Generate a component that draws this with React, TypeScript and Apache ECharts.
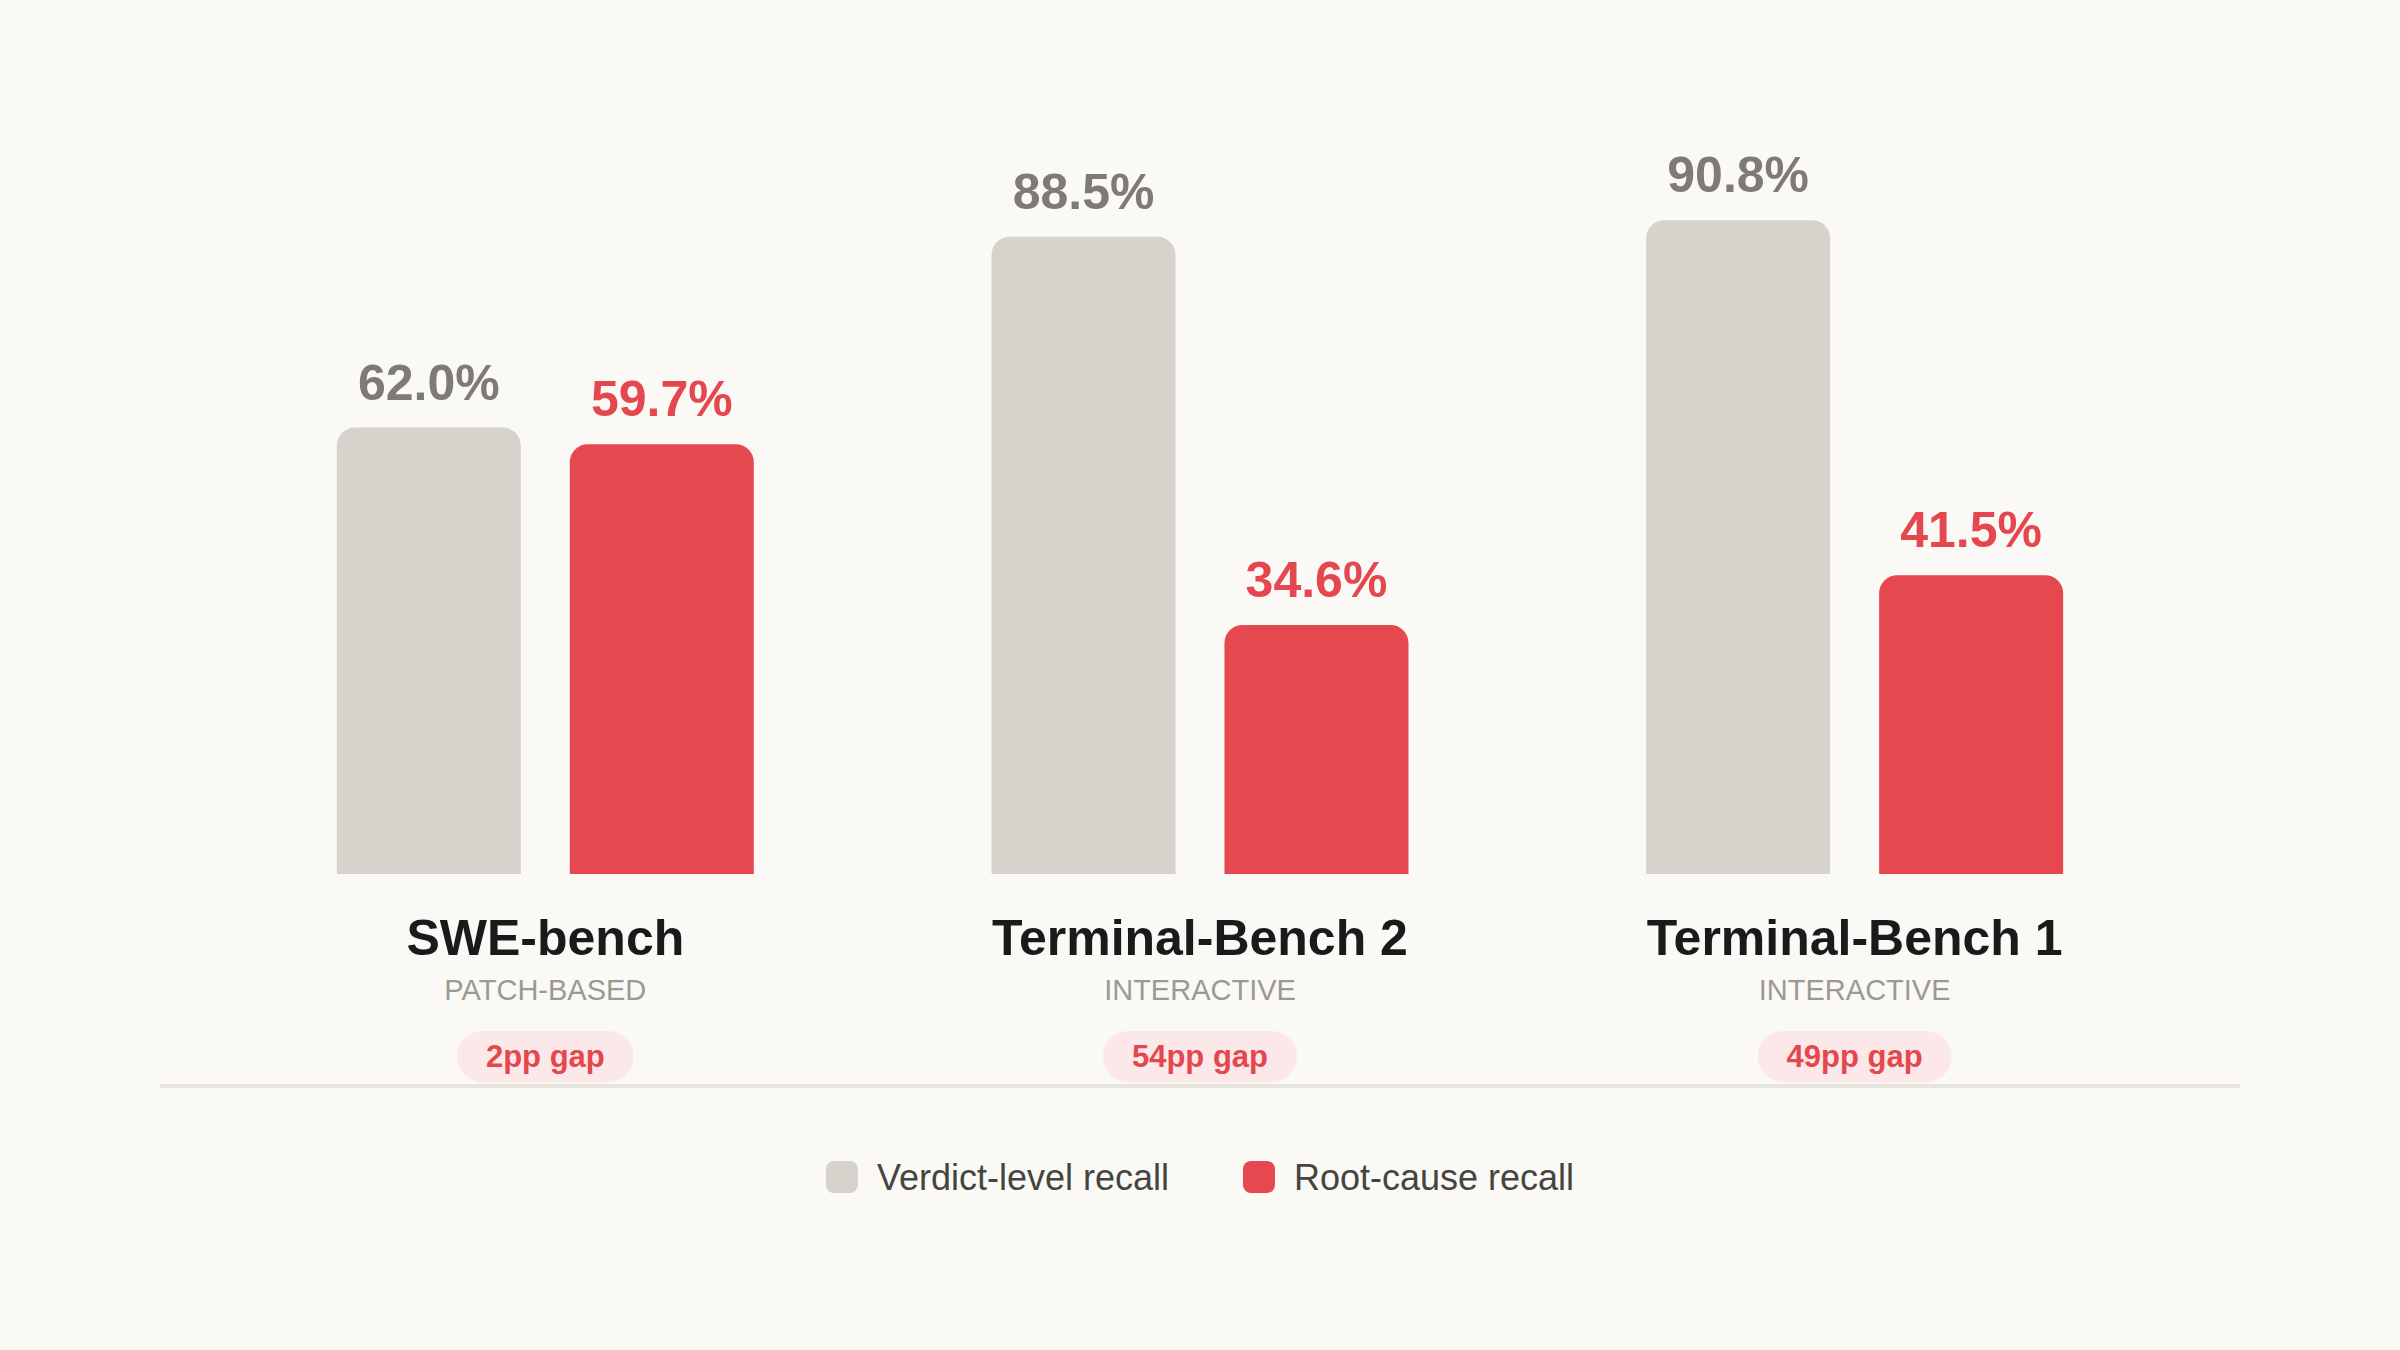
import React, { useEffect, useRef } from "react";
import * as echarts from "echarts";

const benchmarks = ["SWE-bench", "Terminal-Bench 2", "Terminal-Bench 1"];
const benchmarkTypes = ["PATCH-BASED", "INTERACTIVE", "INTERACTIVE"];
const gapLabels = ["2pp gap", "54pp gap", "49pp gap"];
const verdictRecall = [62.0, 88.5, 90.8];
const rootCauseRecall = [59.7, 34.6, 41.5];
const seriesNames = ["Verdict-level recall", "Root-cause recall"];

const FONT = "'Liberation Sans', Arial, Helvetica, sans-serif";
const GRAY_BAR = "#d5d3cc";
const RED_BAR = "#e5494f";
const GRAY_TEXT = "#7d7b73";
const RED_TEXT = "#e5474e";
const BG = "#faf9f6";

export default function App() {
  const ref = useRef<HTMLDivElement>(null);

  useEffect(() => {
    if (!ref.current) return;
    const chart = echarts.init(ref.current, undefined, { renderer: "svg" });
    chart.setOption({
      animation: false,
      backgroundColor: BG,
      textStyle: { fontFamily: FONT },
      grid: { left: 218, right: 218, top: 154, bottom: 476, containLabel: false },
      legend: {
        data: seriesNames,
        top: 1154,
        left: "center",
        itemWidth: 32,
        itemHeight: 32,
        itemGap: 74,
        icon: "roundRect",
        selectedMode: false,
        textStyle: {
          fontFamily: FONT,
          fontSize: 36,
          color: "#454540",
          padding: [0, 0, 0, 14],
        },
      },
      xAxis: {
        type: "category",
        data: benchmarks,
        axisLine: { show: false },
        axisTick: { show: false },
        splitLine: { show: false },
        axisLabel: {
          interval: 0,
          margin: 34,
          hideOverlap: false,
          formatter: (value: string, idx: number) =>
            `{t|${value}}\n{s|${benchmarkTypes[idx]}}\n{sp| }\n{p|${gapLabels[idx]}}`,
          rich: {
            t: {
              fontFamily: FONT,
              fontSize: 50,
              fontWeight: "bold",
              color: "#1a1a1a",
              lineHeight: 60,
              align: "center",
            },
            s: {
              fontFamily: FONT,
              fontSize: 29,
              color: "#9b9a92",
              lineHeight: 44,
              align: "center",
            },
            sp: {
              fontSize: 10,
              lineHeight: 29,
              align: "center",
            },
            p: {
              fontFamily: FONT,
              fontSize: 31,
              fontWeight: "bold",
              color: RED_TEXT,
              lineHeight: 31,
              align: "center",
              backgroundColor: "#fce8e8",
              borderRadius: 26,
              padding: [10, 29],
            },
          },
        },
      },
      yAxis: {
        type: "value",
        min: 0,
        max: 100,
        show: false,
        splitLine: { show: false },
      },
      graphic: [
        {
          type: "rect",
          left: 160,
          top: 1084,
          shape: { width: 2080, height: 4 },
          style: { fill: "#e6e4dd" },
          z: -1,
        },
      ],
      series: [
        {
          name: seriesNames[0],
          type: "bar",
          data: verdictRecall,
          barWidth: 184,
          barGap: "26.6%",
          itemStyle: { color: GRAY_BAR, borderRadius: [18, 18, 0, 0] },
          label: {
            show: true,
            position: "top",
            distance: 20,
            formatter: (p: any) => `${p.value.toFixed(1)}%`,
            fontFamily: FONT,
            fontSize: 50,
            fontWeight: "bold",
            color: GRAY_TEXT,
          },
        },
        {
          name: seriesNames[1],
          type: "bar",
          data: rootCauseRecall,
          barWidth: 184,
          barGap: "26.6%",
          itemStyle: { color: RED_BAR, borderRadius: [18, 18, 0, 0] },
          label: {
            show: true,
            position: "top",
            distance: 20,
            formatter: (p: any) => `${p.value.toFixed(1)}%`,
            fontFamily: FONT,
            fontSize: 50,
            fontWeight: "bold",
            color: RED_TEXT,
          },
        },
      ],
    });
    return () => chart.dispose();
  }, []);

  return (
    <div
      ref={ref}
      style={{ position: "fixed", left: 0, top: 0, width: 2400, height: 1350, background: BG }}
    />
  );
}
